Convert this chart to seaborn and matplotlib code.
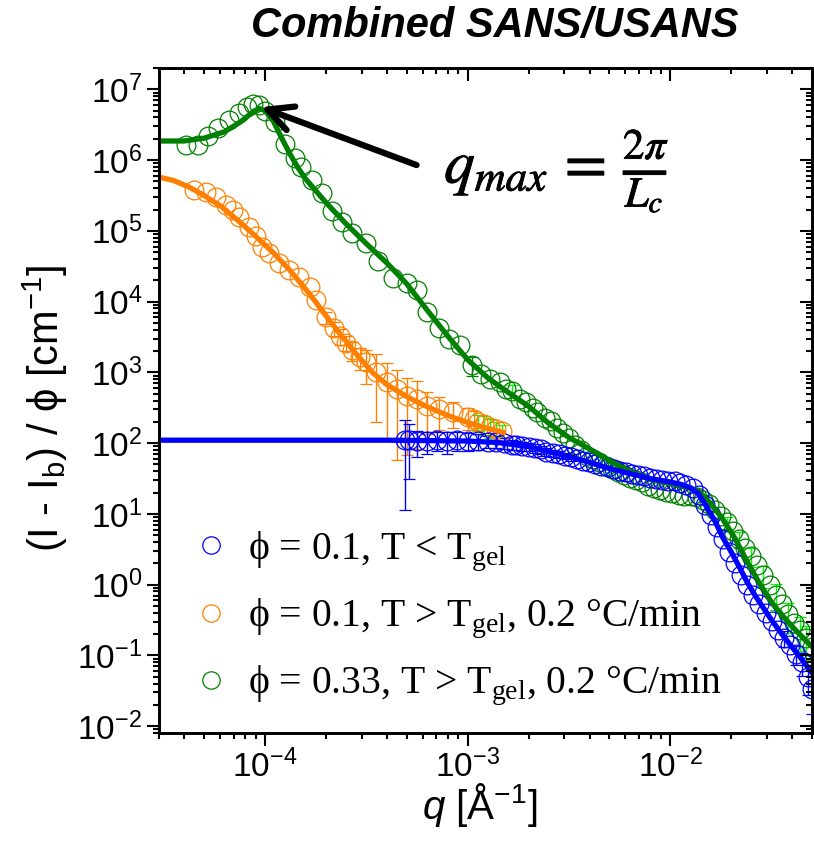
import numpy as np
import matplotlib
matplotlib.use("Agg")
import matplotlib.pyplot as plt
import matplotlib.patheffects as pe
import seaborn as sns
from matplotlib.ticker import LogLocator, FixedLocator, FuncFormatter, NullFormatter
from matplotlib.lines import Line2D
from matplotlib import font_manager, ft2font

# ---------------- data ----------------
# phi = 0.33, T > Tgel : USANS part
q_green_usans = [4.07e-5, 4.68e-5, 5.25e-5, 5.89e-5, 6.61e-5, 7.41e-5, 8.13e-5, 8.71e-5, 9.33e-5, 1.00e-4,
                 1.12e-4, 1.26e-4, 1.41e-4, 1.51e-4, 1.70e-4, 1.91e-4, 2.14e-4, 2.40e-4, 2.69e-4, 3.16e-4,
                 3.63e-4, 4.27e-4, 5.01e-4, 5.62e-4, 6.31e-4, 7.24e-4, 8.13e-4, 9.12e-4, 1.05e-3, 1.17e-3,
                 1.29e-3, 1.45e-3]
I_green_usans = [1.62e6, 1.62e6, 2.19e6, 2.82e6, 3.63e6, 4.68e6, 5.62e6, 6.17e6, 6.03e6, 5.01e6,
                 3.47e6, 1.66e6, 1.07e6, 7.94e5, 5.25e5, 3.47e5, 1.91e5, 1.32e5, 9.33e4, 6.76e4,
                 3.80e4, 2.14e4, 1.86e4, 1.48e4, 7.24e3, 4.17e3, 2.95e3, 2.40e3, 1.26e3, 955,
                 794, 724]
rel_green_usans = [0, 0, 0, 0, 0, 0, 0, 0, 0, 0,
                   0, 0, 0, 0, 0, 0, 0, 0, 0, 0,
                   0, 0, 0, 0, 0, 0, 0, 0, 0.30, 0,
                   0, 0]
# phi = 0.33, T > Tgel : SANS part
q_green_sans = [1.55e-3, 1.66e-3, 1.82e-3, 1.95e-3, 2.09e-3, 2.19e-3, 2.40e-3, 2.57e-3, 2.75e-3, 2.95e-3,
                3.16e-3, 3.39e-3, 3.63e-3, 3.89e-3, 4.17e-3, 4.47e-3, 4.79e-3, 5.13e-3, 5.50e-3, 5.89e-3,
                6.31e-3, 6.76e-3, 7.24e-3, 7.76e-3, 8.32e-3, 8.91e-3, 9.55e-3, 1.02e-2, 1.10e-2, 1.17e-2,
                1.26e-2, 1.35e-2, 1.45e-2, 1.55e-2, 1.66e-2, 1.78e-2, 1.91e-2, 2.04e-2, 2.19e-2, 2.34e-2,
                2.51e-2, 2.69e-2, 2.88e-2, 3.09e-2, 3.31e-2, 3.55e-2, 3.80e-2, 4.07e-2, 4.37e-2, 4.68e-2,
                5.01e-2]
I_green_sans = [575, 550, 417, 380, 316, 275, 229, 204, 166, 141,
                117, 95.5, 79.4, 66.1, 58.9, 53.7, 47.9, 43.7, 38.9, 35.5,
                32.4, 30.2, 28.2, 25.1, 23.4, 21.9, 20.4, 19.5, 18.6, 17.8,
                17.8, 17.4, 15.8, 13.8, 11.5, 9.33, 7.59, 5.75, 4.37, 3.31,
                2.51, 1.91, 1.38, 1.00, 0.724, 0.525, 0.380, 0.288, 0.229, 0.174,
                0.132]
rel_green_sans = [0, 0.20, 0, 0, 0, 0, 0, 0, 0, 0,
                  0, 0, 0, 0, 0, 0, 0, 0.12, 0, 0,
                  0, 0, 0, 0, 0, 0, 0, 0, 0, 0,
                  0, 0, 0, 0, 0, 0, 0.20, 0, 0.25, 0,
                  0.30, 0, 0.35, 0, 0.40, 0, 0.45, 0, 0.50, 0.50,
                  0.50]

# phi = 0.1, T > Tgel
q_orange = [4.47e-5, 5.13e-5, 5.75e-5, 6.46e-5, 6.92e-5, 7.41e-5, 8.32e-5, 9.02e-5, 9.66e-5, 1.05e-4,
            1.17e-4, 1.32e-4, 1.48e-4, 1.66e-4, 1.78e-4, 2.00e-4, 2.19e-4, 2.34e-4, 2.51e-4, 2.69e-4,
            2.95e-4, 3.16e-4, 3.55e-4, 3.98e-4, 4.47e-4, 5.01e-4, 5.62e-4, 6.31e-4, 7.24e-4, 8.51e-4,
            1.00e-3, 1.07e-3]
I_orange = [3.80e5, 3.55e5, 3.02e5, 2.34e5, 2.00e5, 1.58e5, 1.15e5, 8.32e4, 5.89e4, 4.90e4,
            3.55e4, 2.82e4, 2.24e4, 1.62e4, 1.05e4, 6.03e3, 4.17e3, 3.24e3, 2.63e3, 2.09e3,
            1.66e3, 1.38e3, 1.00e3, 724, 575, 457, 417, 331, 302, 275,
            234, 219]
rel_orange = [0, 0, 0, 0, 0, 0, 0, 0, 0, 0,
              0, 0, 0, 0, 0, 0.20, 0.22, 0.25, 0.25, 0.30,
              0.35, 0.50, 0.80, 0.85, 0.90, 0.85, 0.80, 0.60, 0.50, 0.40,
              0.35, 0.30]
q_orange_sans = [1.12e-3, 1.20e-3, 1.29e-3, 1.38e-3, 1.48e-3]
I_orange_sans = [200, 186, 170, 158, 148]
rel_orange_sans = [0.25, 0.30, 0.30, 0.25, 0.20]

# phi = 0.1, T < Tgel
q_blue_usans = [4.90e-4, 5.13e-4, 5.62e-4, 6.31e-4, 7.08e-4, 7.94e-4, 8.91e-4, 1.00e-3, 1.12e-3, 1.26e-3,
                1.38e-3, 1.51e-3, 1.66e-3]
I_blue_usans = [112, 110, 107, 107, 110, 107, 110, 107, 107, 105,
                105, 100, 95.5]
rel_blue_usans = [0.90, 0.72, 0.40, 0.35, 0.30, 0.35, 0.30, 0.28, 0.25, 0.20,
                  0.20, 0.18, 0.15]
q_blue_sans = [1.74e-3, 1.86e-3, 2.00e-3, 2.14e-3, 2.29e-3, 2.45e-3, 2.63e-3, 2.82e-3, 3.02e-3, 3.24e-3,
               3.47e-3, 3.72e-3, 3.98e-3, 4.27e-3, 4.57e-3, 4.90e-3, 5.25e-3, 5.62e-3, 6.03e-3, 6.46e-3,
               6.92e-3, 7.41e-3, 7.94e-3, 8.51e-3, 9.12e-3, 9.77e-3, 1.05e-2, 1.12e-2, 1.20e-2, 1.29e-2,
               1.38e-2, 1.48e-2, 1.58e-2, 1.70e-2, 1.82e-2, 1.95e-2, 2.09e-2, 2.24e-2, 2.40e-2, 2.57e-2,
               2.75e-2, 2.95e-2, 3.16e-2, 3.39e-2, 3.63e-2, 3.89e-2, 4.17e-2, 4.47e-2, 4.79e-2, 5.01e-2]
I_blue_sans = [93.3, 91.2, 89.1, 85.1, 81.3, 75.9, 72.4, 69.2, 66.1, 63.1,
               58.9, 56.2, 53.7, 51.3, 47.9, 45.7, 42.7, 40.7, 38.9, 37.2,
               35.5, 33.9, 32.4, 31.6, 30.2, 29.5, 28.8, 27.5, 25.7, 22.9,
               18.6, 13.5, 9.55, 6.61, 4.37, 2.88, 2.00, 1.38, 1.00, 0.724,
               0.537, 0.398, 0.302, 0.229, 0.178, 0.138, 0.105, 0.0794, 0.0501, 0.0331]
rel_blue_sans = [0.15, 0.15, 0.14, 0.14, 0.13, 0.12, 0.12, 0.11, 0.10, 0.10,
                 0, 0, 0, 0, 0, 0, 0, 0, 0, 0,
                 0, 0, 0, 0, 0, 0, 0, 0, 0, 0,
                 0, 0, 0, 0, 0, 0, 0, 0, 0, 0,
                 0, 0, 0, 0, 0.25, 0, 0.30, 0.35, 0.45, 0.55]

# model fits
q_fit_green = [3.0e-5, 3.98e-5, 5.01e-5, 6.31e-5, 7.59e-5, 8.71e-5, 9.33e-5, 1.00e-4, 1.10e-4, 1.20e-4,
               1.32e-4, 1.45e-4, 1.58e-4, 2.00e-4, 2.51e-4, 3.16e-4, 3.98e-4, 5.01e-4, 6.31e-4, 7.94e-4,
               1.00e-3, 1.26e-3, 1.58e-3, 2.00e-3, 2.51e-3, 3.16e-3, 3.98e-3, 5.01e-3, 6.31e-3, 7.94e-3,
               1.00e-2, 1.20e-2, 1.38e-2, 1.58e-2, 1.82e-2, 2.09e-2, 2.40e-2, 2.75e-2, 3.16e-2, 3.63e-2,
               4.17e-2, 5.01e-2]
I_fit_green = [1.86e6, 1.86e6, 2.04e6, 2.51e6, 3.47e6, 4.79e6, 5.37e6, 5.01e6, 3.55e6, 2.14e6,
               1.26e6, 7.94e5, 5.50e5, 2.51e5, 1.26e5, 6.61e4, 3.55e4, 1.78e4, 7.59e3, 3.31e3,
               1.51e3, 832, 525, 331, 191, 120, 83.2, 56.2, 39.8, 30.9,
               26.9, 24.0, 20.9, 14.1, 8.32, 4.47, 2.09, 1.05, 0.562, 0.347,
               0.224, 0.132]
q_fit_orange = [3.0e-5, 3.55e-5, 4.21e-5, 5.01e-5, 6.12e-5, 7.41e-5, 9.02e-5, 1.10e-4, 1.32e-4, 1.51e-4,
                1.71e-4, 2.00e-4, 2.32e-4, 2.82e-4, 3.39e-4, 3.98e-4, 4.99e-4, 6.03e-4, 7.26e-4, 8.71e-4,
                1.06e-3, 1.29e-3, 1.51e-3]
I_fit_orange = [5.75e5, 5.13e5, 4.17e5, 3.16e5, 2.19e5, 1.38e5, 8.32e4, 4.90e4, 2.82e4, 1.78e4,
                1.15e4, 6.31e3, 3.63e3, 1.82e3, 1.00e3, 676, 457, 347, 275, 224,
                186, 158, 141]
q_fit_blue = [3.0e-5, 3.98e-4, 1.00e-3, 1.41e-3, 2.00e-3, 2.51e-3, 3.16e-3, 3.98e-3, 5.01e-3, 6.31e-3,
              7.94e-3, 1.00e-2, 1.12e-2, 1.26e-2, 1.38e-2, 1.51e-2, 1.66e-2, 1.82e-2, 2.00e-2, 2.19e-2,
              2.40e-2, 2.63e-2, 2.88e-2, 3.16e-2, 3.55e-2, 3.98e-2, 4.47e-2, 5.01e-2]
I_fit_blue = [110, 110, 107, 102, 89.1, 75.9, 64.6, 53.7, 43.7, 37.2,
              31.6, 28.2, 26.3, 23.4, 19.1, 12.6, 7.94, 4.57, 2.88, 1.78,
              1.07, 0.692, 0.468, 0.316, 0.200, 0.132, 0.0871, 0.0562]

x_limits = (3.0e-5, 5.0e-2)
y_limits = (8.0e-3, 2.0e7)
x_major_ticks = [1e-4, 1e-3, 1e-2]
y_major_ticks = [1e-2, 1e-1, 1e0, 1e1, 1e2, 1e3, 1e4, 1e5, 1e6, 1e7]
arrow_tip = (9.55e-5, 5.6e6)
arrow_tail = (5.6e-4, 8.5e5)

# ---------------- style ----------------
sns.set_style("ticks")
plt.rcParams["font.family"] = ["Liberation Sans", "DejaVu Sans"]
plt.rcParams["mathtext.fontset"] = "custom"
plt.rcParams["mathtext.rm"] = "Liberation Sans"
plt.rcParams["mathtext.it"] = "Liberation Sans:italic"
plt.rcParams["mathtext.bf"] = "Liberation Sans:bold"
plt.rcParams["axes.edgecolor"] = "black"
plt.rcParams["xtick.color"] = "black"
plt.rcParams["ytick.color"] = "black"
plt.rcParams["text.color"] = "black"


def has_glyph(family, ch):
    try:
        path = font_manager.findfont(family, fallback_to_default=False)
        return ft2font.FT2Font(path).get_char_index(ord(ch)) != 0
    except Exception:
        return False


PHI_SERIF = "\u03d5" if has_glyph("Liberation Serif", "\u03d5") else "\u03c6"
PHI_SANS = "\u03d5" if has_glyph("Liberation Sans", "\u03d5") else "\u03c6"

BLUE = "#0000FF"
ORANGE = "#FF8000"
GREEN = "#008000"
LIME = "#00FF00"

fig = plt.figure(figsize=(8.14, 8.48), dpi=100)
ax = fig.add_axes([0.1953, 0.1356, 0.8022, 0.7842])
ax.set_xscale("log")
ax.set_yscale("log")


def rel_to_abs(I, rel):
    return [a * b if b > 0 else np.nan for a, b in zip(I, rel)]


mk = dict(fmt="o", ms=13.5, mfc="none", mew=0.9, elinewidth=1.0, capsize=4.5, capthick=1.0, zorder=2)
ax.errorbar(q_green_usans, I_green_usans, yerr=rel_to_abs(I_green_usans, rel_green_usans),
            mec=GREEN, ecolor=GREEN, **mk)
ax.errorbar(q_green_sans, I_green_sans, yerr=rel_to_abs(I_green_sans, rel_green_sans),
            mec=GREEN, ecolor=LIME, **mk)
ax.errorbar(q_orange, I_orange, yerr=rel_to_abs(I_orange, rel_orange),
            mec=ORANGE, ecolor=ORANGE, **mk)
ax.errorbar(q_orange_sans, I_orange_sans, yerr=rel_to_abs(I_orange_sans, rel_orange_sans),
            mec=ORANGE, ecolor=LIME, **mk)
ax.errorbar(q_blue_usans, I_blue_usans, yerr=rel_to_abs(I_blue_usans, rel_blue_usans),
            mec=BLUE, ecolor=BLUE, **mk)
ax.errorbar(q_blue_sans, I_blue_sans, yerr=rel_to_abs(I_blue_sans, rel_blue_sans),
            mec=BLUE, ecolor=BLUE, **mk)

sns.lineplot(x=q_fit_green, y=I_fit_green, ax=ax, color=GREEN, lw=3.8, sort=False,
             estimator=None, legend=False, zorder=4)
sns.lineplot(x=q_fit_orange, y=I_fit_orange, ax=ax, color=ORANGE, lw=3.8, sort=False,
             estimator=None, legend=False, zorder=4)
sns.lineplot(x=q_fit_blue, y=I_fit_blue, ax=ax, color=BLUE, lw=3.8, sort=False,
             estimator=None, legend=False, zorder=5)

ax.set_xlim(*x_limits)
ax.set_ylim(*y_limits)
ax.set_xlabel("")
ax.set_ylabel("")

fmt = FuncFormatter(lambda v, p: r"$\mathregular{10^{%d}}$" % int(round(np.log10(v))))


def set_log_ticks(axis, majors):
    axis.set_major_locator(FixedLocator(majors))
    axis.set_minor_locator(LogLocator(base=10, subs=np.arange(2, 10), numticks=200))


set_log_ticks(ax.xaxis, x_major_ticks)
set_log_ticks(ax.yaxis, y_major_ticks)
ax.xaxis.set_major_formatter(fmt)
ax.yaxis.set_major_formatter(fmt)
ax.xaxis.set_minor_formatter(NullFormatter())
ax.yaxis.set_minor_formatter(NullFormatter())
ax.tick_params(which="both", direction="out", width=1.5, labelsize=24, top=False, right=False)
ax.tick_params(which="major", length=9, pad=3)
ax.tick_params(which="minor", length=4.5)
ax.tick_params(axis="x", pad=3)

# mirrored ticks on top and right, pointing inwards
axt = ax.twiny()
axt.set_xscale("log")
axt.set_xlim(*x_limits)
set_log_ticks(axt.xaxis, x_major_ticks)
axt.xaxis.set_major_formatter(NullFormatter())
axt.xaxis.set_minor_formatter(NullFormatter())
axt.tick_params(which="both", direction="in", width=1.5, labeltop=False)
axt.tick_params(which="major", length=9)
axt.tick_params(which="minor", length=4.5)
axt.set_xlabel("")

axr = ax.twinx()
axr.set_yscale("log")
axr.set_ylim(*y_limits)
set_log_ticks(axr.yaxis, y_major_ticks)
axr.yaxis.set_major_formatter(NullFormatter())
axr.yaxis.set_minor_formatter(NullFormatter())
axr.tick_params(which="both", direction="in", width=1.5, labelright=False)
axr.tick_params(which="major", length=9)
axr.tick_params(which="minor", length=4.5)
axr.set_ylabel("")

for a in (ax, axt, axr):
    for s in a.spines.values():
        s.set_linewidth(1.8)
        s.set_color("black")

# legend
serif = font_manager.FontProperties(family=["Liberation Serif", "DejaVu Serif"], size=28.5)
labels = [PHI_SERIF + r" = 0.1, T < T$_{\mathregular{gel}}$",
          PHI_SERIF + r" = 0.1, T > T$_{\mathregular{gel}}$, 0.2 °C/min",
          PHI_SERIF + r" = 0.33, T > T$_{\mathregular{gel}}$, 0.2 °C/min"]
handles = [Line2D([], [], ls="none", marker="o", ms=12.5, mfc="none", mew=0.9, mec=c)
           for c in (BLUE, ORANGE, GREEN)]
ax.legend(handles, labels, loc="upper left", bbox_to_anchor=(0.060, 0.306), frameon=False,
          prop=serif, handlelength=0.65, handletextpad=0.62, labelspacing=0.58,
          borderpad=0, borderaxespad=0, numpoints=1)

# annotation arrow + formula
ax.annotate("", xy=arrow_tip, xytext=arrow_tail,
            arrowprops=dict(arrowstyle="->,head_length=0.9,head_width=0.45", lw=4.5,
                            color="black", shrinkA=0, shrinkB=0, mutation_scale=20),
            zorder=6)
fig.text(0.684, 0.797, r"$q_{max}\,=\,\frac{2\pi}{L_c}$", ha="center", va="center",
         fontsize=44, math_fontfamily="stix",
         path_effects=[pe.withStroke(linewidth=0.6, foreground="black")])

# labels and title
fig.text(495 / 814, 1 - 26 / 848, "Combined SANS/USANS", ha="center", va="center",
         fontsize=30, fontweight="bold", fontstyle="italic")
fig.text(45 / 814, 1 - 408 / 848,
         "(I - I$_{\\mathregular{b}}$) / " + PHI_SANS + " [cm$^{\\mathregular{-1}}$]",
         rotation=90, ha="center", va="center", fontsize=30)
fig.text(480 / 814, 1 - 805 / 848, r"$\mathit{q}$ [Å$^{\mathregular{-1}}$]",
         ha="center", va="center", fontsize=29)

fig.savefig("out.png", dpi=100)
